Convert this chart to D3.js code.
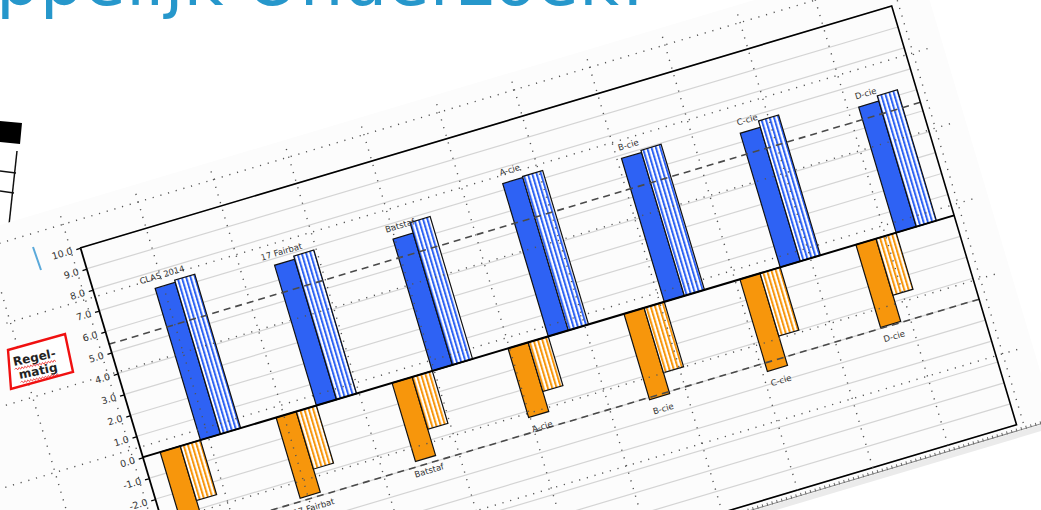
<!DOCTYPE html>
<html>
<head>
<meta charset="utf-8">
<script src="https://cdn.jsdelivr.net/npm/d3@7"></script>
<style>
  html, body { margin: 0; padding: 0; background: #fff; }
  svg { display: block; }
</style>
</head>
<body>
<svg id="chart"></svg>
<script>
// values
var categories = ["CLAS 2014", "17 Fairbat", "Batstaf", "A-cie", "B-cie", "C-cie", "D-cie"];
var blueSolid = [7.25, 6.7, 6.3, 7.3, 6.85, 6.4, 6.0];
var blueStriped = [7.35, 6.85, 6.8, 7.35, 6.95, 6.7, 6.25];
var orangeSolid = [-3.7, -3.85, -3.75, -3.3, -4.1, -4.4, -3.95];
var orangeStriped = [-2.6, -2.75, -2.5, -2.35, -3.1, -3.0, -2.7];
var refLines = [5.4, -4.0];
var yTicks = d3.range(-10, 11);
var seriesKeys = ["orangeSolid", "orangeStriped", "blueSolid", "blueStriped"];
var seriesValues = {
    orangeSolid: orangeSolid,
    orangeStriped: orangeStriped,
    blueSolid: blueSolid,
    blueStriped: blueStriped
};

var w = 1041, h = 510;
var plotW = 847, plotH = 437;
var tilt = -16.6;
var blue = "#2e62f4", orange = "#f7960c";

var svg = d3.select("#chart").attr("width", w).attr("height", h);
svg.append("rect").attr("width", w).attr("height", h).attr("fill", "#fff");

var defs = svg.append("defs");
function stripes(id, color) {
    var p = defs.append("pattern")
        .attr("id", id)
        .attr("patternUnits", "userSpaceOnUse")
        .attr("width", 4.2).attr("height", 10);
    p.append("rect").attr("width", 4.2).attr("height", 10).attr("fill", "#fff");
    p.append("rect").attr("width", 2).attr("height", 10).attr("fill", color);
}
stripes("stripeBlue", blue);
stripes("stripeOrange", orange);

var fills = {
    orangeSolid: orange,
    orangeStriped: "url(#stripeOrange)",
    blueSolid: blue,
    blueStriped: "url(#stripeBlue)"
};

// title, cut off by the top of the photo
svg.append("text")
    .attr("x", -4).attr("y", 5)
    .attr("font-family", "DejaVu Sans")
    .attr("font-size", 69)
    .attr("fill", "#2697cb")
    .text("ppelijk Onderzoek!");

// bits of the neighbouring sheet on the left
var left = svg.append("g");
left.append("polygon").attr("points", "0,121 22,123 20,144 0,142").attr("fill", "#000");
left.append("line").attr("x1", 17).attr("y1", 151).attr("x2", 8).attr("y2", 234)
    .attr("stroke", "#111").attr("stroke-width", 1.5);
left.append("line").attr("x1", 0).attr("y1", 171).attr("x2", 16).attr("y2", 173)
    .attr("stroke", "#111").attr("stroke-width", 1.3);
left.append("line").attr("x1", 0).attr("y1", 191).attr("x2", 14).attr("y2", 193)
    .attr("stroke", "#111").attr("stroke-width", 1.3);

// chart drawn in its own frame, then tilted like the photo
var g = svg.append("g").attr("transform", "translate(80,248) rotate(" + tilt + ")");

var x = d3.scaleBand().domain(categories).range([0, plotW]);
var xs = d3.scaleBand().domain(seriesKeys).range([0, 84]);
var offset = (x.bandwidth() - 84) / 2;
var y = d3.scaleLinear().domain([-10, 10]).range([plotH, 0]);

// sheet
g.append("rect").attr("x", -400).attr("y", -45).attr("width", 1285).attr("height", 489)
    .attr("fill", "#fcfcfc");
g.append("rect").attr("x", -400).attr("y", 444).attr("width", 1280).attr("height", 6)
    .attr("fill", "#ebebeb");

// grey gridlines
g.append("g").selectAll("line").data(yTicks).join("line")
    .attr("x1", 0).attr("x2", plotW)
    .attr("y1", d => y(d)).attr("y2", d => y(d))
    .attr("stroke", "#d4d4d4").attr("stroke-width", 1.2);

// bars
var rows = [];
categories.forEach(function (c, i) {
    seriesKeys.forEach(function (k) {
        rows.push({ cat: c, key: k, value: seriesValues[k][i] });
    });
});
g.append("g").selectAll("rect").data(rows).join("rect")
    .attr("x", d => x(d.cat) + offset + xs(d.key))
    .attr("y", d => Math.min(y(d.value), y(0)))
    .attr("width", xs.bandwidth())
    .attr("height", d => Math.abs(y(d.value) - y(0)))
    .attr("fill", d => fills[d.key])
    .attr("stroke", "#111").attr("stroke-width", 1.2);

// dashed reference lines
g.append("g").selectAll("line").data(refLines).join("line")
    .attr("x1", 0).attr("x2", plotW)
    .attr("y1", d => y(d)).attr("y2", d => y(d))
    .attr("stroke", "#4a4a4a").attr("stroke-width", 1.6)
    .attr("stroke-dasharray", "7,5");

// zero line
g.append("line").attr("x1", 0).attr("x2", plotW).attr("y1", y(0)).attr("y2", y(0))
    .attr("stroke", "#000").attr("stroke-width", 2);

// frame
g.append("path")
    .attr("d", "M0," + y(10) + "H" + plotW + "V" + y(-10) + "H0")
    .attr("fill", "none").attr("stroke", "#000").attr("stroke-width", 1.6);

// y axis
var yAxis = g.append("g").call(d3.axisLeft(y).tickValues(yTicks)
    .tickFormat(d => d.toFixed(1)).tickSize(4).tickSizeOuter(0).tickPadding(4));
yAxis.select(".domain").attr("stroke", "#000").attr("stroke-width", 1.8);
yAxis.selectAll(".tick line").attr("stroke", "#000").attr("stroke-width", 1.3);
yAxis.selectAll("text")
    .attr("font-family", "DejaVu Sans").attr("font-size", 9.5).attr("fill", "#333");

// ruler edge under the plot
var rulerV = 443;
g.append("line").attr("x1", -400).attr("x2", 872).attr("y1", rulerV).attr("y2", rulerV)
    .attr("stroke", "#8a8a8a").attr("stroke-width", 1);
g.append("line").attr("x1", -400).attr("x2", 872).attr("y1", rulerV - 1).attr("y2", rulerV - 1)
    .attr("stroke", "#666").attr("stroke-width", 3).attr("stroke-dasharray", "1,4");

// dotted layout grid lying over everything
var gridStep = 78.5;
var gridU = d3.range(-6, 11).map(k => 69 + gridStep * k);
var gridV = d3.range(0, 6).map(k => -27.5 + gridStep * k);
var dots = g.append("g").attr("stroke", "#555").attr("stroke-width", 1.4)
    .attr("stroke-dasharray", "1.2,6.8");
dots.selectAll(".gh").data(gridV).join("line").attr("class", "gh")
    .attr("x1", -500).attr("x2", 872).attr("y1", d => d).attr("y2", d => d);
dots.selectAll(".gv").data(gridU).join("line").attr("class", "gv")
    .attr("x1", d => d).attr("x2", d => d).attr("y1", -36).attr("y2", rulerV);

// category labels on the solid bars
var labelFont = { family: "DejaVu Sans", size: 8.5 };
g.append("g").selectAll("text").data(categories).join("text")
    .attr("x", d => x(d) + offset + xs("blueSolid") + xs.bandwidth() / 2)
    .attr("y", (d, i) => y(blueSolid[i]) - 11)
    .attr("dy", "0.35em")
    .attr("text-anchor", "middle")
    .attr("font-family", labelFont.family).attr("font-size", labelFont.size)
    .attr("fill", "#333")
    .text(d => d);
g.append("g").selectAll("text").data(categories).join("text")
    .attr("x", d => x(d) + offset + xs("orangeSolid") + xs.bandwidth() / 2)
    .attr("y", (d, i) => y(orangeSolid[i]) + 12.5)
    .attr("dy", "0.35em")
    .attr("text-anchor", "middle")
    .attr("font-family", labelFont.family).attr("font-size", labelFont.size)
    .attr("fill", "#333")
    .text(d => d);

// small blue marker and the red "Regel-matig" box
svg.append("line").attr("x1", 33).attr("y1", 247).attr("x2", 41).attr("y2", 270)
    .attr("stroke", "#5aa9da").attr("stroke-width", 2);
svg.append("polygon").attr("points", "8,350 65,334 73,372 11,389")
    .attr("fill", "#fff").attr("stroke", "#f01010").attr("stroke-width", 2.4);

function zigzag(x0, x1, yy) {
    var p = "M" + x0 + "," + yy;
    for (var xx = x0 + 1.5, up = true; xx <= x1; xx += 1.5, up = !up) {
        p += "L" + xx + "," + (yy + (up ? -1 : 1));
    }
    return p;
}
var rg = svg.append("g").attr("transform", "translate(14,366) rotate(-12)");
rg.append("text").attr("x", 0).attr("y", 0)
    .attr("font-family", "DejaVu Sans").attr("font-weight", "bold").attr("font-size", 12)
    .attr("fill", "#222").text("Regel-");
rg.append("text").attr("x", 3).attr("y", 14)
    .attr("font-family", "DejaVu Sans").attr("font-weight", "bold").attr("font-size", 12)
    .attr("fill", "#222").text("matig");
rg.append("path").attr("d", zigzag(0, 42, 3.5)).attr("fill", "none")
    .attr("stroke", "#e33").attr("stroke-width", 0.8);
rg.append("path").attr("d", zigzag(3, 42, 17.5)).attr("fill", "none")
    .attr("stroke", "#e33").attr("stroke-width", 0.8);
</script>
</body>
</html>
